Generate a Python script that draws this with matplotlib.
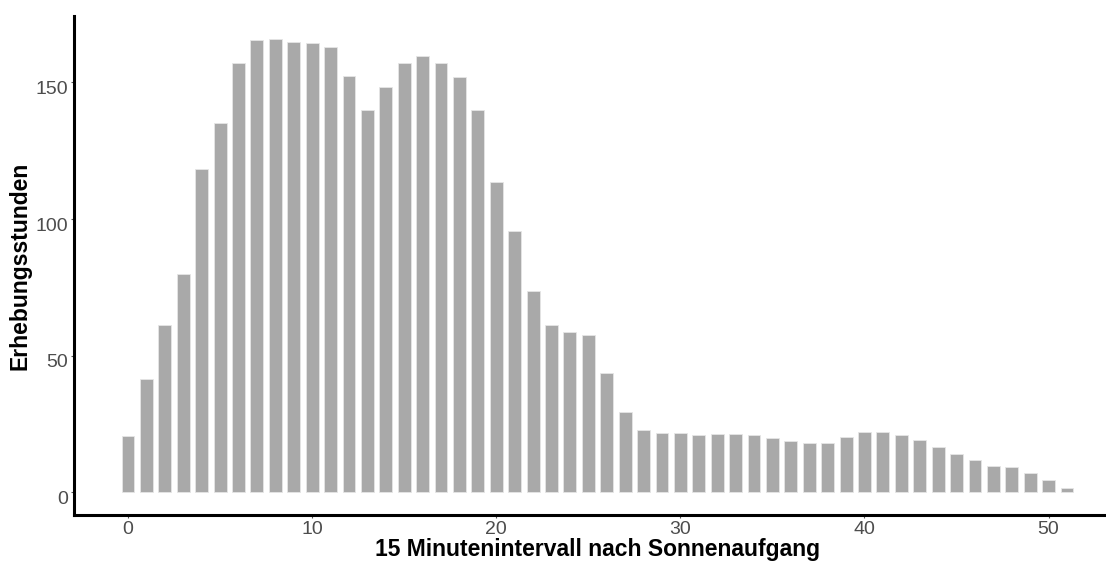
import numpy as np
import matplotlib.pyplot as plt
from matplotlib.transforms import ScaledTranslation

plt.rcParams['font.family'] = ['Liberation Sans', 'DejaVu Sans']

# Erhebungsstunden je 15-Minuten-Intervall nach Sonnenaufgang
intervall = np.arange(52)
stunden = [
    20.7, 41.3, 61.1, 80.0, 118.3, 135.3, 157.2, 165.4, 165.9, 164.9,
    164.4, 162.8, 152.4, 140.0, 148.3, 157.2, 159.8, 157.2, 152.0, 140.0,
    113.6, 95.5, 73.8, 61.1, 58.6, 57.5, 43.5, 29.5, 22.7, 21.8,
    21.8, 20.8, 21.3, 21.3, 20.8, 19.7, 18.6, 18.1, 18.1, 20.2,
    22.2, 22.2, 20.8, 19.2, 16.6, 13.9, 11.9, 9.8, 9.3, 7.2,
    4.6, 1.6,
]
x_ticks = [0, 10, 20, 30, 40, 50]
y_ticks = [0, 50, 100, 150]

fig = plt.figure(figsize=(11.06, 5.64), dpi=100)
ax = fig.add_axes([0.0669, 0.0869, 0.9467, 0.8847])

ax.bar(intervall, stunden, width=0.7, color='#a9a9a9', edgecolor='#e6e6e6', linewidth=0.6)

ax.set_xlim(-2.935, 53.935)
ax.set_ylim(-8.3, 174.3)
ax.set_xticks(x_ticks)
ax.set_yticks(y_ticks)

for side in ['top', 'right']:
    ax.spines[side].set_visible(False)
for side in ['left', 'bottom']:
    ax.spines[side].set_linewidth(2.2)
    ax.spines[side].set_color('black')

ax.tick_params(axis='both', colors='#555555', labelcolor='#4d4d4d', labelsize=14,
               length=2.5, width=0.8, pad=1.5)

# y labels sit a little below their ticks
shift = ScaledTranslation(0, -0.05, fig.dpi_scale_trans)
for lbl in ax.get_yticklabels():
    lbl.set_transform(lbl.get_transform() + shift)

ax.set_xlabel('15 Minutenintervall nach Sonnenaufgang', fontsize=16.5,
              fontweight='bold', labelpad=0)
ax.set_ylabel('Erhebungsstunden', fontsize=16.5, fontweight='bold', labelpad=3)

fig.savefig('out.png', dpi=100)
